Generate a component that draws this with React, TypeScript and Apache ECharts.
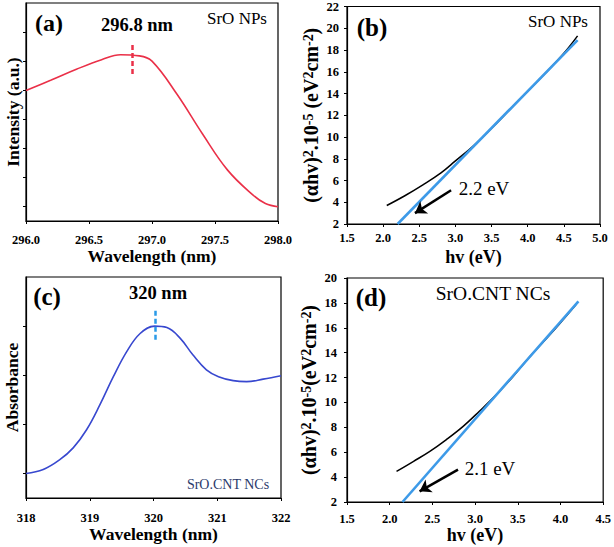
import React, { useEffect, useRef } from "react";
import * as echarts from "echarts";

// ---------- data ----------
// (a) SrO NPs emission
const aWavelength = [296.0, 296.2, 296.4, 296.6, 296.75, 296.9, 297.0, 297.2, 297.4, 297.6, 297.8, 297.9, 298.0];
const aIntensity = [4.49, 4.85, 5.22, 5.55, 5.72, 5.68, 5.5, 4.35, 3.0, 1.75, 0.9, 0.6, 0.49];
const aPeak = 296.84;
const aTicksY = [0.5, 1.5, 2.5, 3.5, 4.5, 5.5, 6.5];

// (b) SrO NPs Tauc
const bHv = [2.05, 2.3, 2.55, 2.8, 3.0, 3.25, 3.5, 3.75, 4.0, 4.25, 4.5, 4.69];
const bTauc = [3.7, 4.6, 5.6, 6.7, 7.8, 9.2, 10.8, 12.5, 14.2, 15.9, 17.7, 19.3];
const bFitHv = [2.2, 4.69];
const bFitTauc = [2.0, 18.9];
const bArrowFrom = [2.94, 5.1];
const bArrowTo = [2.44, 3.0];

// (c) SrO.CNT NCs absorbance
const cWavelength = [318.0, 318.27, 318.53, 318.74, 318.95, 319.16, 319.37, 319.58, 319.79, 320.02, 320.21, 320.42, 320.62, 320.83, 321.02, 321.25, 321.46, 321.72, 322.0];
const cAbs = [0.5, 0.58, 0.78, 1.02, 1.39, 1.9, 2.47, 2.98, 3.35, 3.5, 3.47, 3.25, 2.91, 2.61, 2.47, 2.39, 2.37, 2.42, 2.49];
const cPeak = 320.02;
const cTicksY = [0.5, 1.5, 2.5, 3.5];

// (d) SrO.CNT NCs Tauc
const dHv = [2.08, 2.28, 2.47, 2.66, 2.86, 3.05, 3.25, 3.44, 3.63, 3.83, 3.98, 4.18];
const dTauc = [4.46, 5.27, 6.07, 7.0, 8.08, 9.29, 10.63, 12.05, 13.6, 15.1, 16.25, 17.85];
const dFitHv = [2.15, 4.21];
const dFitTauc = [2.0, 18.13];
const dArrowFrom = [2.8, 4.6];
const dArrowTo = [2.35, 2.86];

const FONT = '"Liberation Serif", "Times New Roman", serif';

const zip = (xs: number[], ys: number[]) => xs.map((x, i) => [x, ys[i]]);

const axisCommon = (extra: any = {}) => ({
  axisLine: { show: true, onZero: false, lineStyle: { color: "#000", width: 1.2 } },
  axisTick: { show: true, inside: false, length: 3, lineStyle: { color: "#000", width: 1 } },
  splitLine: { show: false },
  ...extra,
});

const tickLabel = (margin: number, fmt?: (v: number) => string) => ({
  show: true,
  margin,
  fontFamily: FONT,
  fontWeight: "bold",
  fontSize: 12.5,
  color: "#000",
  showMinLabel: true,
  showMaxLabel: true,
  formatter: fmt,
});

const nameStyle = (size: number, sup = 12) => ({
  fontFamily: FONT,
  fontWeight: "bold",
  fontSize: size,
  color: "#000",
  rich: {
    s: { fontFamily: FONT, fontWeight: "bold", fontSize: sup, color: "#000", verticalAlign: "top" },
  },
});

const txt = (text: string, x: number, y: number, size: number, bold: boolean, fill = "#000") => ({
  type: "text",
  x,
  y,
  silent: true,
  style: {
    text,
    fontFamily: FONT,
    fontSize: size,
    fontWeight: bold ? "bold" : "normal",
    fill,
    align: "center",
    verticalAlign: "middle",
    textAlign: "center",
    textVerticalAlign: "middle",
  },
});

const arrowMark = (from: number[], to: number[]) => ({
  silent: true,
  symbol: ["none", "arrow"],
  symbolSize: 11,
  label: { show: false },
  lineStyle: { color: "#000", width: 2.5, type: "solid" },
  emphasis: { disabled: true },
  data: [[{ coord: from }, { coord: to }]],
});

const peakMark = (x: number, y0: number, y1: number, color: string) => ({
  silent: true,
  symbol: ["none", "none"],
  label: { show: false },
  lineStyle: { color, width: 2.5, type: [5, 3] },
  emphasis: { disabled: true },
  data: [[{ coord: [x, y0] }, { coord: [x, y1] }]],
});

export default function App() {
  const ref = useRef<HTMLDivElement>(null);

  useEffect(() => {
    if (!ref.current) return;
    const chart = echarts.init(ref.current, undefined, { renderer: "svg" });
    const yName = "(αhv){s|2}.10{s|-5} (eV{s|2}cm{s|-2})";
    const yNameD = "(αhv){s|2}.10{s|-5}(eV{s|2}cm{s|-2})";
    const option: any = {
      animation: false,
      backgroundColor: "#fff",
      grid: [
        { left: 26, top: 3, width: 252, height: 218, show: true, borderColor: "#000", borderWidth: 1.2 },
        { left: 347, top: 5, width: 253, height: 219, show: true, borderColor: "#000", borderWidth: 1.2 },
        { left: 26, top: 277, width: 255, height: 221, show: true, borderColor: "#000", borderWidth: 1.2 },
        { left: 347, top: 278, width: 257, height: 224, show: true, borderColor: "#000", borderWidth: 1.2 },
      ],
      xAxis: [
        axisCommon({
          type: "value", gridIndex: 0, min: 296, max: 298, interval: 0.5,
          axisLabel: tickLabel(12, (v: number) => v.toFixed(1)),
          name: "Wavelength (nm)", nameLocation: "middle", nameGap: 25, nameTextStyle: nameStyle(17.5),
        }),
        axisCommon({
          type: "value", gridIndex: 1, min: 1.5, max: 5.0, interval: 0.5,
          axisLabel: tickLabel(7, (v: number) => v.toFixed(1)),
          name: "hv (eV)", nameLocation: "middle", nameGap: 24, nameTextStyle: nameStyle(18),
        }),
        axisCommon({
          type: "value", gridIndex: 2, min: 318, max: 322, interval: 1,
          axisLabel: tickLabel(13, (v: number) => String(v)),
          name: "Wavelength (nm)", nameLocation: "middle", nameGap: 26, nameTextStyle: nameStyle(17.5),
        }),
        axisCommon({
          type: "value", gridIndex: 3, min: 1.5, max: 4.5, interval: 0.5,
          axisLabel: tickLabel(10, (v: number) => v.toFixed(1)),
          name: "hv (eV)", nameLocation: "middle", nameGap: 24, nameTextStyle: nameStyle(18),
        }),
      ],
      yAxis: [
        axisCommon({
          type: "value", gridIndex: 0, min: 0, max: 7.5,
          axisTick: { show: true, inside: false, length: 3, customValues: aTicksY, lineStyle: { color: "#000" } },
          axisLabel: { show: false },
          name: "Intensity (a.u.)", nameLocation: "middle", nameRotate: 90, nameGap: 4, nameTextStyle: nameStyle(17.5),
        }),
        axisCommon({
          type: "value", gridIndex: 1, min: 2, max: 22, interval: 2,
          axisLabel: tickLabel(8),
          name: yName, nameLocation: "middle", nameRotate: 90, nameGap: 26, nameTextStyle: nameStyle(20, 14),
        }),
        axisCommon({
          type: "value", gridIndex: 2, min: 0, max: 4.5,
          axisTick: { show: true, inside: false, length: 3, customValues: cTicksY, lineStyle: { color: "#000" } },
          axisLabel: { show: false },
          name: "Absorbance", nameLocation: "middle", nameRotate: 90, nameGap: 5, nameTextStyle: nameStyle(17.5),
        }),
        axisCommon({
          type: "value", gridIndex: 3, min: 2, max: 20, interval: 2,
          axisLabel: tickLabel(10),
          name: yNameD, nameLocation: "middle", nameRotate: 90, nameGap: 28, nameTextStyle: nameStyle(20, 14),
        }),
      ],
      series: [
        {
          name: "SrO NPs emission", type: "line", xAxisIndex: 0, yAxisIndex: 0,
          data: zip(aWavelength, aIntensity), smooth: 0.4, symbol: "none",
          lineStyle: { color: "#ea3048", width: 1.6 },
          markLine: peakMark(aPeak, 5.06, 6.14, "#ea3048"),
        },
        {
          name: "SrO NPs Tauc", type: "line", xAxisIndex: 1, yAxisIndex: 1,
          data: zip(bHv, bTauc), smooth: 0.4, symbol: "none",
          lineStyle: { color: "#000", width: 1.5 },
        },
        {
          name: "SrO NPs fit", type: "line", xAxisIndex: 1, yAxisIndex: 1,
          data: zip(bFitHv, bFitTauc), symbol: "none",
          lineStyle: { color: "#3d9ae8", width: 2.6 },
          markLine: arrowMark(bArrowFrom, bArrowTo),
        },
        {
          name: "SrO.CNT NCs absorbance", type: "line", xAxisIndex: 2, yAxisIndex: 2,
          data: zip(cWavelength, cAbs), smooth: 0.4, symbol: "none",
          lineStyle: { color: "#3848cf", width: 1.6 },
          markLine: peakMark(cPeak, 3.22, 3.86, "#2a9ae8"),
        },
        {
          name: "SrO.CNT NCs Tauc", type: "line", xAxisIndex: 3, yAxisIndex: 3,
          data: zip(dHv, dTauc), smooth: 0.4, symbol: "none",
          lineStyle: { color: "#000", width: 1.5 },
        },
        {
          name: "SrO.CNT NCs fit", type: "line", xAxisIndex: 3, yAxisIndex: 3,
          data: zip(dFitHv, dFitTauc), symbol: "none",
          lineStyle: { color: "#3d9ae8", width: 2.6 },
          markLine: arrowMark(dArrowFrom, dArrowTo),
        },
      ],
      graphic: [
        txt("(a)", 49, 23, 24, true),
        txt("296.8 nm", 137, 25, 18.5, true),
        txt("SrO NPs", 237, 18, 17, false),
        txt("(b)", 372, 27, 25, true),
        txt("SrO NPs", 558, 21, 17, false),
        txt("2.2 eV", 484, 188, 19, false),
        txt("(c)", 47, 296, 25, true),
        txt("320 nm", 158, 293, 18.5, true),
        txt("SrO.CNT NCs", 228, 484, 14, false, "#2b3a6b"),
        txt("(d)", 371, 297, 25, true),
        txt("SrO.CNT NCs", 493, 293, 19.5, false),
        txt("2.1 eV", 490, 468, 19, false),
      ],
    };
    chart.setOption(option);
    return () => chart.dispose();
  }, []);

  return (
    <div
      ref={ref}
      style={{ position: "fixed", left: 0, top: 0, width: 614, height: 547, background: "#fff" }}
    />
  );
}
